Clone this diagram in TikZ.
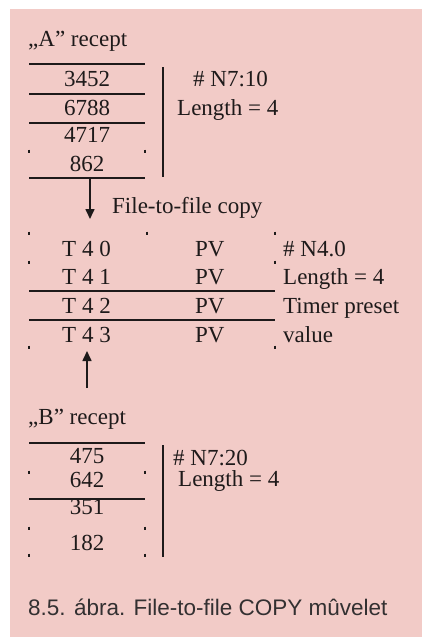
\documentclass[tikz,border=0pt]{standalone}
\usepackage{fontspec}
\setmainfont{Liberation Serif}
\newfontfamily\capfont{Liberation Sans}
\usetikzlibrary{arrows.meta}
\definecolor{bgpink}{HTML}{F2CBC7}
\definecolor{ink}{HTML}{1E1A1A}
\definecolor{capink}{HTML}{333031}
\tikzset{
  txt/.style={inner sep=0pt, anchor=base west, text=ink, font=\fontsize{23}{23}\selectfont},
  num/.style={inner sep=0pt, anchor=base, text=ink, font=\fontsize{23}{23}\selectfont},
  rule/.style={draw=ink, line width=1.6pt},
  vrule/.style={draw=ink, line width=1.8pt},
  tick/.style={draw=ink, line width=1.1pt},
  flow/.style={draw=ink, line width=1.6pt, -{Triangle[length=10pt,width=9pt]}},
}
\begin{document}
\begin{tikzpicture}[x=1pt,y=-1pt]
\useasboundingbox (0,0) rectangle (422,637);
\fill[bgpink] (10,9) rectangle (422,637);

% ---- A recept ----
\node[txt] (atitle) at (28,46) {„A” recept};
\draw[rule] (29,64) -- (145,64);
\draw[rule] (29,94) -- (145,94);
\draw[rule] (29,123) -- (145,123);
\draw[rule] (29,178) -- (145,178);
\draw[tick] (29,149.5) -- (29,152.5);
\draw[tick] (145,149.5) -- (145,152.5);
\node[num] (a1) at (87,86) {3452};
\node[num] (a2) at (87,115) {6788};
\node[num] (a3) at (87,142) {4717};
\node[num] (a4) at (87,171) {862};
\draw[vrule] (163,67) -- (163,177);
\node[txt] (aaddr) at (193,86) {\# N7:10};
\node[txt] (alen) at (177,115) {Length = 4};

% ---- copy arrow ----
\coordinate (abot) at (90,178);
\coordinate (ttop) at (90,219);
\draw[flow] (abot) -- (ttop);
\node[txt] (copy) at (112,213) {File-to-file copy};

% ---- T table ----
\draw[tick] (29,231.5) -- (29,234.5);
\draw[tick] (147,231.5) -- (147,234.5);
\draw[tick] (275,231.5) -- (275,234.5);
\draw[tick] (29,260.5) -- (29,263.5);
\draw[tick] (275,260.5) -- (275,263.5);
\draw[rule] (29,291) -- (275,291);
\draw[rule] (29,320) -- (275,320);
\draw[tick] (29,345.5) -- (29,348.5);
\draw[tick] (275,345.5) -- (275,348.5);
\node[txt] (t0) at (62,256) {T 4 0};
\node[txt] (t1) at (62,284) {T 4 1};
\node[txt] (t2) at (62,313) {T 4 2};
\node[txt] (t3) at (62,342) {T 4 3};
\node[txt] (p0) at (195,256) {PV};
\node[txt] (p1) at (195,284) {PV};
\node[txt] (p2) at (195,313) {PV};
\node[txt] (p3) at (195,342) {PV};
\node[txt] (taddr) at (283,256) {\# N4.0};
\node[txt] (tlen) at (283,284) {Length = 4};
\node[txt] (tdesc1) at (283,313) {Timer preset};
\node[txt] (tdesc2) at (283,342) {value};

% ---- B arrow ----
\coordinate (bsrc) at (87,388);
\coordinate (tbot) at (87,351);
\draw[flow] (bsrc) -- (tbot);

% ---- B recept ----
\node[txt] (btitle) at (28,424) {„B” recept};
\draw[rule] (29,443) -- (145,443);
\draw[rule] (29,499) -- (145,499);
\draw[tick] (29,470.5) -- (29,473.5);
\draw[tick] (145,470.5) -- (145,473.5);
\draw[tick] (29,526.5) -- (29,529.5);
\draw[tick] (145,526.5) -- (145,529.5);
\draw[tick] (29,553.5) -- (29,556.5);
\draw[tick] (145,553.5) -- (145,556.5);
\node[num] (b1) at (87,463) {475};
\node[num] (b2) at (87,487) {642};
\node[num] (b3) at (87,514) {351};
\node[num] (b4) at (87,550) {182};
\draw[vrule] (163,445) -- (163,557);
\node[txt] (baddr) at (173,465) {\# N7:20};
\node[txt] (blen) at (178,486) {Length = 4};

% ---- caption ----
\node[inner sep=0pt, anchor=base west, text=capink, font=\capfont\fontsize{22.5}{22.5}\selectfont] (caption) at (28,615) {8.5. ábra. File-to-file COPY mûvelet};
\end{tikzpicture}
\end{document}
